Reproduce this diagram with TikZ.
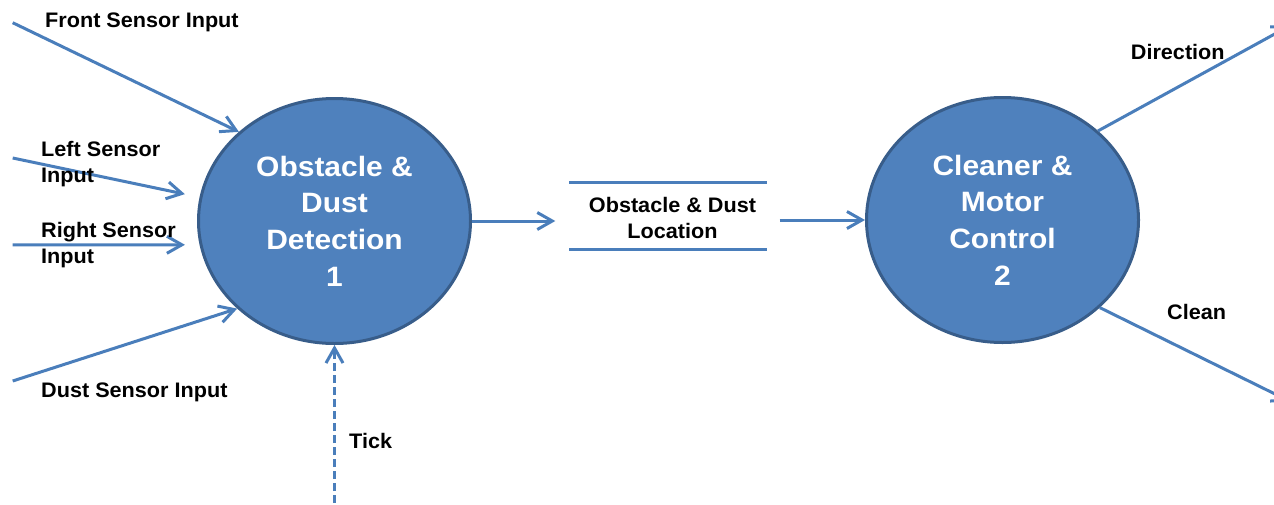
\documentclass[tikz,border=0pt]{standalone}
\usepackage{fontspec}
\setmainfont{Liberation Sans}[FakeStretch=1.07]
\newfontfamily\lblfont{Liberation Sans}[FakeStretch=1.03]
\usetikzlibrary{arrows.meta,shapes.geometric}
\definecolor{lineblue}{HTML}{4A7EBB}
\definecolor{fillblue}{HTML}{4F81BD}
\definecolor{edgeblue}{HTML}{385D8A}
\begin{document}
\begin{tikzpicture}[x=1pt,y=-1pt,
  proc/.style={ellipse, draw=edgeblue, line width=3pt, fill=fillblue,
    minimum width=272pt, minimum height=245pt, inner sep=0pt, text=white,
    font=\fontsize{28}{36.7}\selectfont\bfseries, align=center},
  flow/.style={draw=lineblue, line width=3pt, -{Straight Barb[length=15pt,width=17pt]}},
  plainline/.style={draw=lineblue, line width=3pt},
  lbl/.style={font=\lblfont\fontsize{21}{26}\selectfont\bfseries, inner sep=0pt, anchor=base west, align=left},
  storetext/.style={font=\lblfont\fontsize{21}{26}\selectfont\bfseries, inner sep=0pt, align=center}]
\useasboundingbox (0,0) rectangle (1274,504);
% processes
\node[proc] (c1) at (334.5,221) {Obstacle \&\\Dust\\Detection\\1};
\node[proc] (c2) at (1002.5,220) {Cleaner \&\\Motor\\Control\\2};
% data store
\node[minimum width=197pt, minimum height=66pt, inner sep=0pt] (st) at (668,216) {};
\draw[plainline] (st.north west) -- (st.north east);
\draw[plainline] (st.south west) -- (st.south east);
\node[storetext] (stt) at ([xshift=4.5pt,yshift=-2.4pt]st.center) {Obstacle \& Dust\\Location};
% free ends
\coordinate (fs) at (12.7,22.7);
\coordinate (ls) at (12.7,158);
\coordinate (rs) at (12.7,244.8);
\coordinate (ds) at (12.7,381);
\coordinate (tk) at (334.5,515);
\coordinate (dir) at (1290,25.6);
\coordinate (cln) at (1290,401.4);
% flows
\draw[flow] (fs) -- (c1.137);
\draw[flow, shorten >=15pt] (ls) -- (c1.170);
\draw[flow, shorten >=14.6pt] (rs) -- (c1.190);
\draw[flow] (ds) -- (c1.222);
\draw[flow, dash pattern=on 8pt off 4pt] (tk) -- (c1.south);
\draw[flow, shorten >=14pt] (c1.east) -- (c1.east -| st.west);
\draw[flow, shorten <=13pt] (st.east |- c2.west) -- (c2.west);
\draw[flow] (c2.43) -- (dir);
\draw[flow] (c2.-42) -- (cln);
% labels
\node[lbl] (lfs) at (45,27) {Front Sensor Input};
\node[lbl] (lls) at (41,182) {Left Sensor\\Input};
\node[lbl] (lrs) at (41,263) {Right Sensor\\Input};
\node[lbl] (lds) at (41,397) {Dust Sensor Input};
\node[lbl] (ltk) at (349,448) {Tick};
\node[lbl] (ldir) at (1130.7,59) {Direction};
\node[lbl] (lcl) at (1167,319) {Clean};
\end{tikzpicture}
\end{document}
